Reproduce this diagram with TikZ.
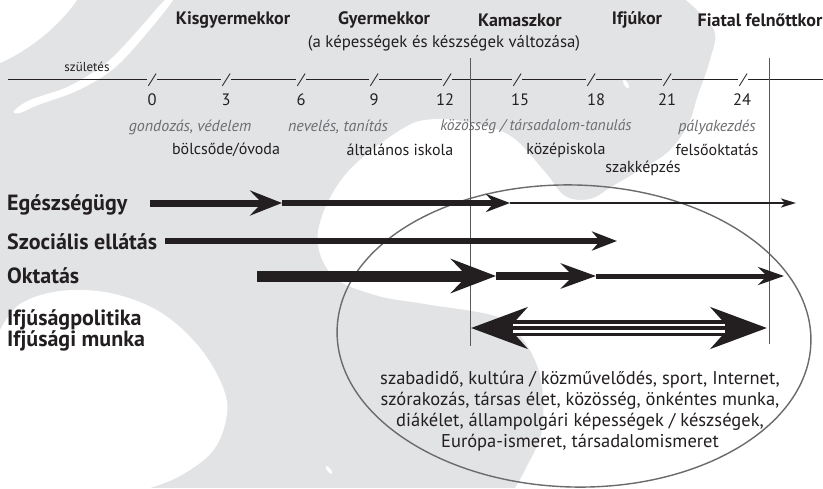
\documentclass[tikz,border=0pt]{standalone}
\usepackage{fontspec}
\setmainfont{PT Sans}
\usetikzlibrary{arrows.meta}
\definecolor{bggrey}{HTML}{E2E3E5}
\definecolor{ink}{HTML}{231F20}
\definecolor{softink}{HTML}{6D6E71}
\definecolor{rulec}{HTML}{58595B}
\definecolor{ellc}{HTML}{6A6B6D}
\begin{document}
\begin{tikzpicture}[x=1pt,y=-1pt,
  head/.style={font=\fontsize{18}{21}\selectfont\bfseries, text=ink, inner sep=0pt},
  sub/.style={font=\fontsize{16.8}{19}\selectfont, text=ink, inner sep=0pt},
  tiny/.style={font=\fontsize{13}{15}\selectfont, text=ink, inner sep=0pt},
  num/.style={font=\fontsize{16.5}{19}\selectfont, text=ink, inner sep=0pt},
  slash/.style={font=\fontsize{15}{17}\selectfont\itshape, text=ink, inner xsep=2.5pt, inner ysep=0pt},
  phase/.style={font=\fontsize{16}{19}\selectfont\itshape, text=softink, inner sep=0pt},
  inst/.style={font=\fontsize{16}{19}\selectfont, text=ink, inner sep=0pt},
  rowlab/.style={font=\fontsize{22}{24}\selectfont\bfseries, text=ink, inner sep=0pt, anchor=west},
  tline/.style={draw=ink, line width=0.8pt},
  vrule/.style={draw=rulec, line width=0.9pt},
  shaft/.style={draw=ink, line cap=butt},
]
\useasboundingbox (0,0) rectangle (823,488);
% background
\fill[bggrey] (0,0) rectangle (823,488);
\fill[white] (77,0) .. controls (60,25) and (30,50) .. (0,63) -- (0,0) -- cycle;
\fill[white] plot[smooth cycle, tension=0.6] coordinates {(165,0) (140,28) (113,57) (92,73) (65,88) (30,100) (14,111) (20,113) (38,105) (72,93) (99,79) (120,63) (147,33) (173,0)};
\fill[white] plot[smooth, tension=0.6] coordinates {(686,0) (714,30) (710,60) (698,95) (688,125) (668,152) (640,170) (613,186) (590,199) (565,196) (545,172) (512,137) (476,124) (436,119) (402,129) (345,175) (318,232) (332,275) (375,295) (425,304) (495,316) (520,335) (540,375) (542,430) (525,470) (515,488)} -- (823,488) -- (823,0) -- cycle;
\fill[white] plot[smooth, tension=0.6] coordinates {(0,330) (20,304) (60,291) (110,293) (160,312) (200,348) (224,390) (226,420) (212,452) (180,476) (150,488)} -- (0,488) -- cycle;
\fill[white, rotate around={-60:(626,84)}] (626,84) ellipse [x radius=5pt, y radius=2pt];
\fill[white, rotate around={-50:(329,470)}] (329,470) ellipse [x radius=5pt, y radius=1.8pt];

% ellipse
\draw[ellc, line width=1.4pt, rotate around={-1.6:(574,336)}] (574,336) ellipse [x radius=237pt, y radius=151pt];

% headings
\node[head] (kisgy) at (233,20) {Kisgyermekkor};
\node[head] (gyerm) at (384,20) {Gyermekkor};
\node[head] (kamasz) at (520,20) {Kamaszkor};
\node[head] (ifju) at (637,20) {Ifjúkor};
\node[head] (fiatal) at (760,20) {Fiatal felnőttkor};
\node[sub] (valt) at (444,43) {(a képességek és készségek változása)};
\node[tiny] (szul) at (87,67) {születés};

% timeline
\coordinate (tstart) at (8,79);
\coordinate (tend) at (823,79);
\node[slash] (s0) at (152,80) {/};
\node[slash] (s3) at (226,80) {/};
\node[slash] (s6) at (301,80) {/};
\node[slash] (s9) at (374,80) {/};
\node[slash] (s12) at (447,80) {/};
\node[slash] (s15) at (517,80) {/};
\node[slash] (s18) at (591,80) {/};
\node[slash] (s21) at (667,80) {/};
\node[slash] (s24) at (743,80) {/};
\draw[tline] (tstart) -- (tstart -| s0.west);
\draw[tline] (s0.east |- tstart) -- (tstart -| s3.west);
\draw[tline] (s3.east |- tstart) -- (tstart -| s6.west);
\draw[tline] (s6.east |- tstart) -- (tstart -| s9.west);
\draw[tline] (s9.east |- tstart) -- (tstart -| s12.west);
\draw[tline] (s12.east |- tstart) -- (tstart -| s15.west);
\draw[tline] (s15.east |- tstart) -- (tstart -| s18.west);
\draw[tline] (s18.east |- tstart) -- (tstart -| s21.west);
\draw[tline] (s21.east |- tstart) -- (tstart -| s24.west);
\draw[tline] (s24.east |- tstart) -- (tend);

\node[num] (n0) at (152,100) {0};
\node[num] (n3) at (226,100) {3};
\node[num] (n6) at (301,100) {6};
\node[num] (n9) at (374,100) {9};
\node[num] (n12) at (445,100) {12};
\node[num] (n15) at (520,100) {15};
\node[num] (n18) at (596,100) {18};
\node[num] (n21) at (667,100) {21};
\node[num] (n24) at (742,100) {24};

% phases
\node[phase] (gond) at (190,127) {gondozás, védelem};
\node[phase] (nev) at (338,127) {nevelés, tanítás};
\node[phase, font=\fontsize{15.5}{19}\selectfont\itshape] (koz) at (536,127) {közösség / társadalom-tanulás};
\node[phase] (paly) at (717,127) {pályakezdés};
\node[inst] (bolcs) at (226,150) {bölcsőde/óvoda};
\node[inst] (altal) at (400,150) {általános iskola};
\node[inst] (kozep) at (566,150) {középiskola};
\node[inst] (felso) at (717,150) {felsőoktatás};
\node[inst] (szakk) at (643,168) {szakképzés};

% vertical rules
\coordinate (v1t) at (470,58); \coordinate (v1b) at (470,346);
\coordinate (v2t) at (769,58); \coordinate (v2b) at (769,344);
\draw[vrule] (v1t) -- (v1b);
\draw[vrule] (v2t) -- (v2b);

% row labels
\node[rowlab] (eg) at (7,205) {Egészségügy};
\node[rowlab] (szoc) at (7,242) {Szociális ellátás};
\node[rowlab] (okt) at (7,276) {Oktatás};
\node[rowlab, align=left] (ifjpol) at (7,330) {Ifjúságpolitika\\[-3pt]Ifjúsági munka};

% Egeszsegugy arrows
\coordinate (e0) at (150,203); \coordinate (e1) at (282,203);
\coordinate (e2) at (510,203); \coordinate (e3) at (796,203);
\draw[shaft, line width=7pt, -{Stealth[length=32pt,width=25pt,inset=12pt]}] (e0) -- (e1);
\draw[shaft, line width=5.5pt, -{Stealth[length=24pt,width=18pt,inset=8pt]}] (e1) -- (e2);
\draw[shaft, line width=2.4pt, -{Stealth[length=15pt,width=9pt,inset=4pt]}] (e2) -- (e3);

% Szocialis
\coordinate (sz0) at (165,241); \coordinate (sz1) at (617,241);
\draw[shaft, line width=5.5pt, -{Stealth[length=25pt,width=19pt,inset=8pt]}] (sz0) -- (sz1);

% Oktatas
\coordinate (o0) at (257,276); \coordinate (o1) at (496,276);
\coordinate (o2) at (596,276); \coordinate (o3) at (784,276);
\draw[shaft, line width=11pt, -{Stealth[length=45pt,width=34pt,inset=16pt]}] (o0) -- (o1);
\draw[shaft, line width=8pt, -{Stealth[length=35pt,width=25pt,inset=12pt]}] (o1) -- (o2);
\draw[shaft, line width=5pt, -{Stealth[length=26pt,width=18pt,inset=9pt]}] (o2) -- (o3);

% Ifjusag double arrow
\coordinate (i0) at (471,328); \coordinate (i1) at (767,328);
\coordinate (iw0) at (513,328); \coordinate (iw1) at (725,328);
\draw[shaft, line width=16pt, {Stealth[length=56pt,width=41pt,inset=18pt]}-{Stealth[length=56pt,width=41pt,inset=18pt]}] (i0) -- (i1);
\draw[draw=white, line width=9pt] (iw0) -- (iw1);
\draw[shaft, line width=4pt] (iw0) -- (iw1);

% themes
\node[font=\fontsize{18.5}{21}\selectfont, text=ink, align=center, inner sep=0pt] (themes) at (580,411)
 {szabadidő, kultúra / közművelődés, sport, Internet,\\
  szórakozás, társas élet, közösség, önkéntes munka,\\
  diákélet, állampolgári képességek / készségek,\\
  Európa-ismeret, társadalomismeret};
\end{tikzpicture}
\end{document}
